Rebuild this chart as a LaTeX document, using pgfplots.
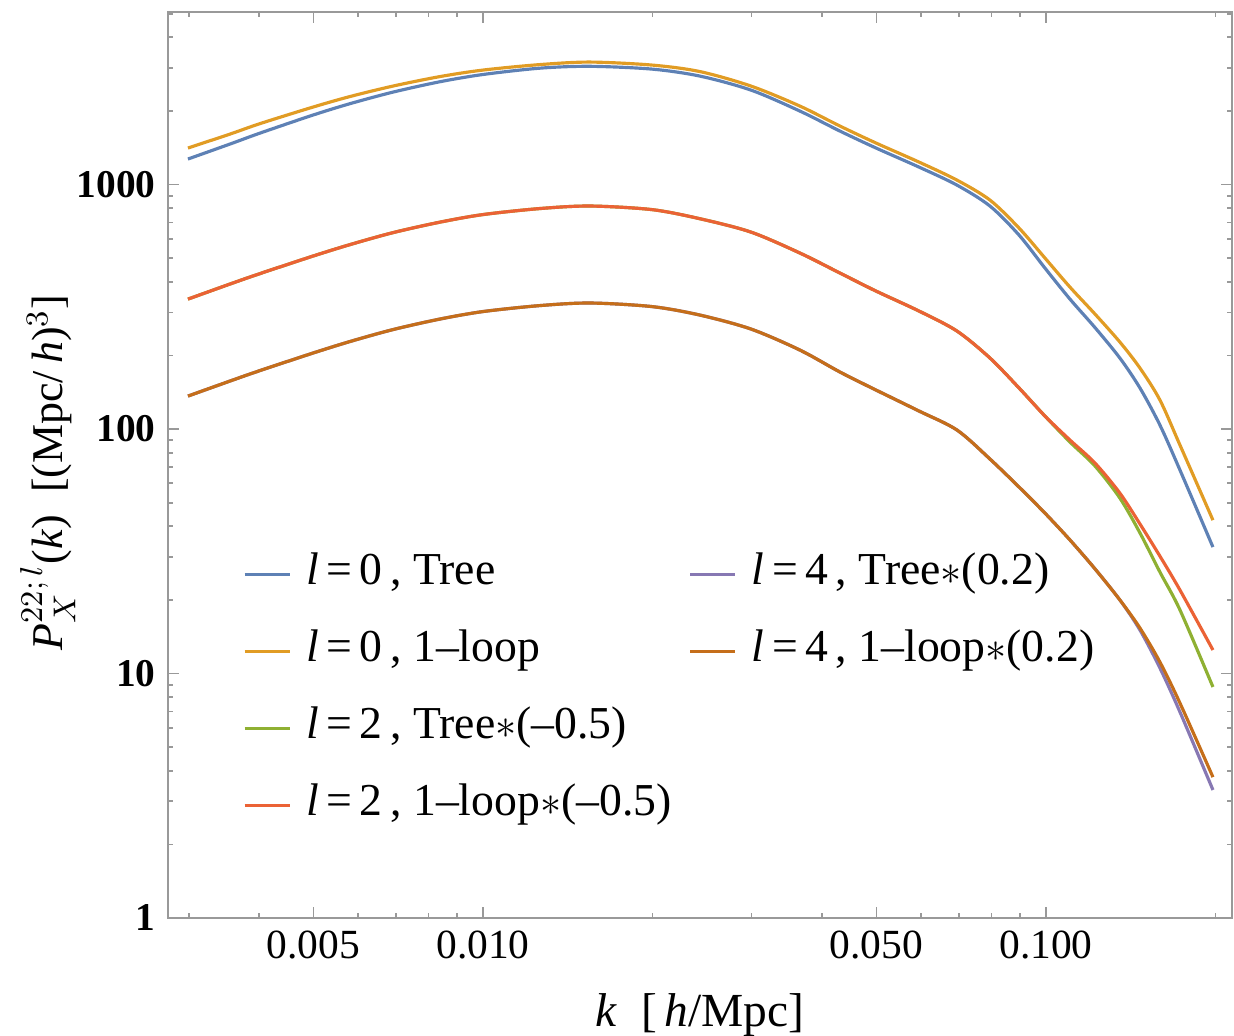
\documentclass[border=0pt]{standalone}
\usepackage{fontspec}
\setmainfont{Liberation Serif}
\usepackage{pgfplots}
\pgfplotsset{compat=1.18}
\usepackage{pgfplotstable}

\definecolor{c1}{rgb}{0.368417,0.506779,0.709798}
\definecolor{c2}{rgb}{0.880722,0.611041,0.142051}
\definecolor{c3}{rgb}{0.560181,0.691569,0.194885}
\definecolor{c4}{rgb}{0.922526,0.385626,0.209179}
\definecolor{c5}{rgb}{0.528488,0.470624,0.701351}
\definecolor{c6}{rgb}{0.772079,0.431554,0.102387}
\definecolor{framegray}{gray}{0.6}

\pgfplotstableread{
k        B      O      G      R      Pu     Br
0.002992 1272   1411   340    340    136.4  136.4
0.003554 1465   1609   392    392    157.2  157.2
0.004018 1624   1776   432.5  432.5  173.5  173.5
0.004990 1925   2075   510    510    204.6  204.6
0.005803 2142   2291   568    568    228    228
0.006922 2389   2529   636    636    255.2  255.2
0.008386 2634   2765   702    702    281.8  281.8
0.01     2820   2940   754    754    302.4  302.4
0.01262  2993   3096   798    798    319.9  319.9
0.01549  3046   3170   817    817    327.7  327.7
0.01996  2967   3082   790    790    316.9  316.9
0.02428  2778   2899   725    725    292.6  292.6
0.02992  2435   2529   639.3  639.3  256.5  256.5
0.03656  1998   2094   524.7  524.7  210.4  210.4
0.04306  1655   1735   434.6  434.6  171.1  171.1
0.04990  1411   1479   366.8  366.8  144.4  144.4
0.05950  1179   1236   303.9  303.9  118.5  118.5
0.06949  995    1043   251.7  251.7  99.1   99.1
0.07955  816.7  864    195.2  195.2  75.4   75.4
0.08958  621.4  663.9  147.2  147.2  57.9   57.9
0.09959  455.4  500.5  113.0  113.0  45.3   45.3
0.1103   340.2  380.8  88.5   90.2   35.2   35.2
0.1222   260.1  295.4  70.6   72.6   26.8   26.8
0.1353   195.2  226.9  52.2   54.7   20.0   20.0
0.14689  147.2  177.6  37.6   40.9   15.06  15.35
0.15940  103.8  131.4  26.0   30.2   10.53  11.14
0.1730   67.96  86.0   18.2   21.95  6.96   7.57
0.1980   32.9   42.4   8.81   12.48  3.34   3.77
}\data

\begin{document}
\begin{tikzpicture}
\path[use as bounding box] (-1.68cm,-1.17cm) rectangle (10.66cm,9.18cm);
\begin{loglogaxis}[
  at={(0,0)}, anchor=south west, scale only axis,
  width=10.64cm, height=9.06cm,
  xmin=0.002757, xmax=0.214, ymin=1, ymax=5080,
  axis line style={framegray, line width=0.6pt},
  every tick/.style={framegray, line width=0.5pt},
  tick align=inside,
  major tick length=0.11cm, minor tick length=0.055cm,
  xtick={0.005,0.01,0.05,0.1},
  xticklabels={0.005,0.010,0.050,0.100},
  minor xtick={0.003,0.004,0.006,0.007,0.008,0.009,0.02,0.03,0.04,0.06,0.07,0.08,0.09,0.2},
  ytick={1,10,100,1000},
  yticklabels={\textbf{1},\textbf{10},\textbf{100},\textbf{1000}},
  minor ytick={2,3,4,5,6,7,8,9,20,30,40,50,60,70,80,90,200,300,400,500,600,700,800,900,2000,3000,4000,5000},
  xticklabel style={font=\fontsize{11.8}{12}\selectfont},
  yticklabel style={font=\fontsize{11.2}{12}\selectfont},
  xlabel={\textit{k}\ \ [\,\textit{h}/Mpc]},
  xlabel style={at={(axis description cs:0.5,-0.107)}, anchor=center, font=\fontsize{13.5}{14}\selectfont},
  ylabel={\textit{P}$_{X}^{22;\,l}$(\textit{k})\ \ [(Mpc/\,\textit{h})$^{3}$]},
  ylabel style={at={(axis description cs:-0.113,0.492)}, anchor=center, font=\fontsize{12.5}{13}\selectfont},
  legend columns=2,
  legend cell align=left,
  legend image code/.code={\draw[#1, line width=0.9pt] (0cm,0cm) -- (0.45cm,0cm);},
  legend style={at={(axis description cs:0.06,0.41)}, anchor=north west,
    draw=none, fill=none, font=\fontsize{13}{14}\selectfont,
    nodes={inner sep=0pt, text height=0.3cm, text depth=0.1cm},
    row sep=0.37cm,
    /tikz/every odd column/.append style={column sep=0.15cm},
    /tikz/every even column/.append style={column sep=0.17cm}},
]
\addplot[c1, line width=0.9pt, smooth, forget plot] table[x=k, y=B] {\data};
\addplot[c2, line width=0.9pt, smooth, forget plot] table[x=k, y=O] {\data};
\addplot[c3, line width=0.9pt, smooth, forget plot] table[x=k, y=G] {\data};
\addplot[c4, line width=0.9pt, smooth, forget plot] table[x=k, y=R] {\data};
\addplot[c5, line width=0.9pt, smooth, forget plot] table[x=k, y=Pu] {\data};
\addplot[c6, line width=0.9pt, smooth, forget plot] table[x=k, y=Br] {\data};

\addlegendimage{c1}
\addlegendentry{\textit{l}\,=\,0\,, Tree}
\addlegendimage{c5}
\addlegendentry{\textit{l}\,=\,4\,, Tree$\ast$(0.2)}
\addlegendimage{c2}
\addlegendentry{\textit{l}\,=\,0\,, 1--loop}
\addlegendimage{c6}
\addlegendentry{\textit{l}\,=\,4\,, 1--loop$\ast$(0.2)}
\addlegendimage{c3}
\addlegendentry{\textit{l}\,=\,2\,, Tree$\ast$(--0.5)}
\addlegendimage{empty legend}
\addlegendentry{}
\addlegendimage{c4}
\addlegendentry{\textit{l}\,=\,2\,, 1--loop$\ast$(--0.5)}
\end{loglogaxis}
\end{tikzpicture}
\end{document}
